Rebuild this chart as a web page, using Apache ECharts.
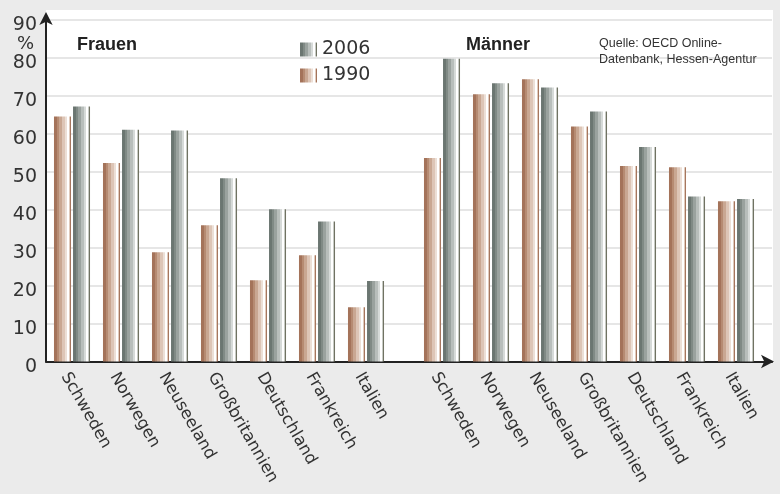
<!DOCTYPE html>
<html>
<head>
<meta charset="utf-8">
<script src="https://cdn.jsdelivr.net/npm/echarts@6/dist/echarts.min.js"></script>
<style>
html,body{margin:0;padding:0;background:#ebebeb;}
#chart{width:780px;height:494px;}
</style>
</head>
<body>
<div id="chart"></div>
<script>
var categories = ['Schweden','Norwegen','Neuseeland','Großbritannien','Deutschland','Frankreich','Italien'];
var frauen1990 = [64.6, 52.3, 28.8, 35.9, 21.4, 28.0, 14.3];
var frauen2006 = [67.2, 61.1, 60.9, 48.3, 40.1, 36.9, 21.2];
var maenner1990 = [53.6, 70.4, 74.4, 61.9, 51.5, 51.2, 42.2];
var maenner2006 = [79.8, 73.3, 72.2, 65.9, 56.5, 43.5, 42.8];
var yTicks = [0, 10, 20, 30, 40, 50, 60, 70, 80, 90];

function stripes(cols, pos) {
  var stops = [];
  for (var i = 0; i < cols.length; i++) {
    stops.push({offset: pos[i], color: cols[i]});
    stops.push({offset: pos[i + 1], color: cols[i]});
  }
  return {type: 'linear', x: 0, y: 0, x2: 1, y2: 0, colorStops: stops};
}
var pos = [0, 0.15, 0.32, 0.48, 0.62, 0.74, 0.86, 0.92, 1];
var c1990 = stripes(['#a4735a', '#b68b72', '#c9a792', '#ddc5b6', '#ecdfd6', '#ffffff', '#e0cbbd', '#a4735a'], pos);
var c2006 = stripes(['#6b7671', '#808a85', '#9aa29e', '#b8bebb', '#d6dad8', '#ffffff', '#c8cbc5', '#707262'], pos);

var FONT = '"Liberation Sans", Arial, sans-serif';
var DFONT = '"DejaVu Sans", sans-serif';
var chart = echarts.init(document.getElementById('chart'));
var catAxis = function (gi) {
  return {
    type: 'category', gridIndex: gi, data: categories,
    axisLine: {show: false}, axisTick: {show: false},
    axisLabel: {rotate: -60, fontSize: 16.5, color: '#333', fontFamily: DFONT, margin: 8, interval: 0, verticalAlign: 'top'}
  };
};
var hiddenY = function (gi) {
  return {type: 'value', gridIndex: gi, min: 0, max: 90, interval: 10, show: false, splitLine: {show: false}};
};
var barBase = {type: 'bar', barWidth: 17, barGap: '12%', animation: false};

chart.setOption({
  backgroundColor: '#ebebeb',
  textStyle: {fontFamily: FONT},
  graphic: [
    {type: 'rect', z: -100, shape: {x: 46, y: 10, width: 727, height: 352}, style: {fill: '#ffffff'}},
    {type: 'text', z: 100, left: 17, top: 35, style: {text: '%', fontSize: 18, fill: '#333', fontFamily: DFONT}},
    {type: 'text', z: 100, left: 77, top: 36, style: {text: 'Frauen', fontSize: 18, fontWeight: 'bold', fill: '#222', fontFamily: FONT}},
    {type: 'text', z: 100, left: 466, top: 36, style: {text: 'Männer', fontSize: 18, fontWeight: 'bold', fill: '#222', fontFamily: FONT}},
    {type: 'text', z: 100, left: 599, top: 36, style: {text: 'Quelle: OECD Online-\nDatenbank, Hessen-Agentur', fontSize: 12.5, lineHeight: 16, fill: '#333', fontFamily: FONT}}
  ],
  legend: {
    data: ['2006', '1990'], orient: 'vertical', left: 300, top: 40, padding: 0,
    itemWidth: 17, itemHeight: 14, itemGap: 7, icon: 'rect',
    textStyle: {fontSize: 19, color: '#333', fontFamily: DFONT}
  },
  grid: [
    {left: 46, right: 8, top: 20, bottom: 132.5},
    {left: 47.5, width: 343, top: 20, bottom: 132.5},
    {left: 417.5, width: 343, top: 20, bottom: 132.5}
  ],
  xAxis: [
    {type: 'value', gridIndex: 0, min: 0, max: 1, axisLabel: {show: false}, axisTick: {show: false}, splitLine: {show: false},
     axisLine: {show: true, lineStyle: {color: '#222', width: 2}, symbol: ['none', 'arrow'], symbolSize: [10, 13], symbolOffset: [0, 2]}},
    catAxis(1), catAxis(2)
  ],
  yAxis: [
    {type: 'value', gridIndex: 0, min: 0, max: 90, interval: 10,
     axisLine: {show: true, lineStyle: {color: '#222', width: 2}, symbol: ['none', 'arrow'], symbolSize: [10, 13], symbolOffset: [0, 8]},
     axisTick: {show: false},
     axisLabel: {color: '#333', margin: 9,
       formatter: function (v) { return yTicks.indexOf(v) >= 0 ? '{a|' + v + '}' : ''; },
       rich: {a: {fontSize: 19, color: '#333', fontFamily: DFONT, padding: [11, 0, 0, 0]}}},
     splitLine: {show: true, lineStyle: {color: '#e6e6e6', width: 2}}},
    hiddenY(1), hiddenY(2)
  ],
  series: [
    Object.assign({}, barBase, {name: '1990', xAxisIndex: 1, yAxisIndex: 1, data: frauen1990, itemStyle: {color: c1990}}),
    Object.assign({}, barBase, {name: '2006', xAxisIndex: 1, yAxisIndex: 1, data: frauen2006, itemStyle: {color: c2006}}),
    Object.assign({}, barBase, {name: '1990', xAxisIndex: 2, yAxisIndex: 2, data: maenner1990, itemStyle: {color: c1990}}),
    Object.assign({}, barBase, {name: '2006', xAxisIndex: 2, yAxisIndex: 2, data: maenner2006, itemStyle: {color: c2006}})
  ]
});
</script>
</body>
</html>
